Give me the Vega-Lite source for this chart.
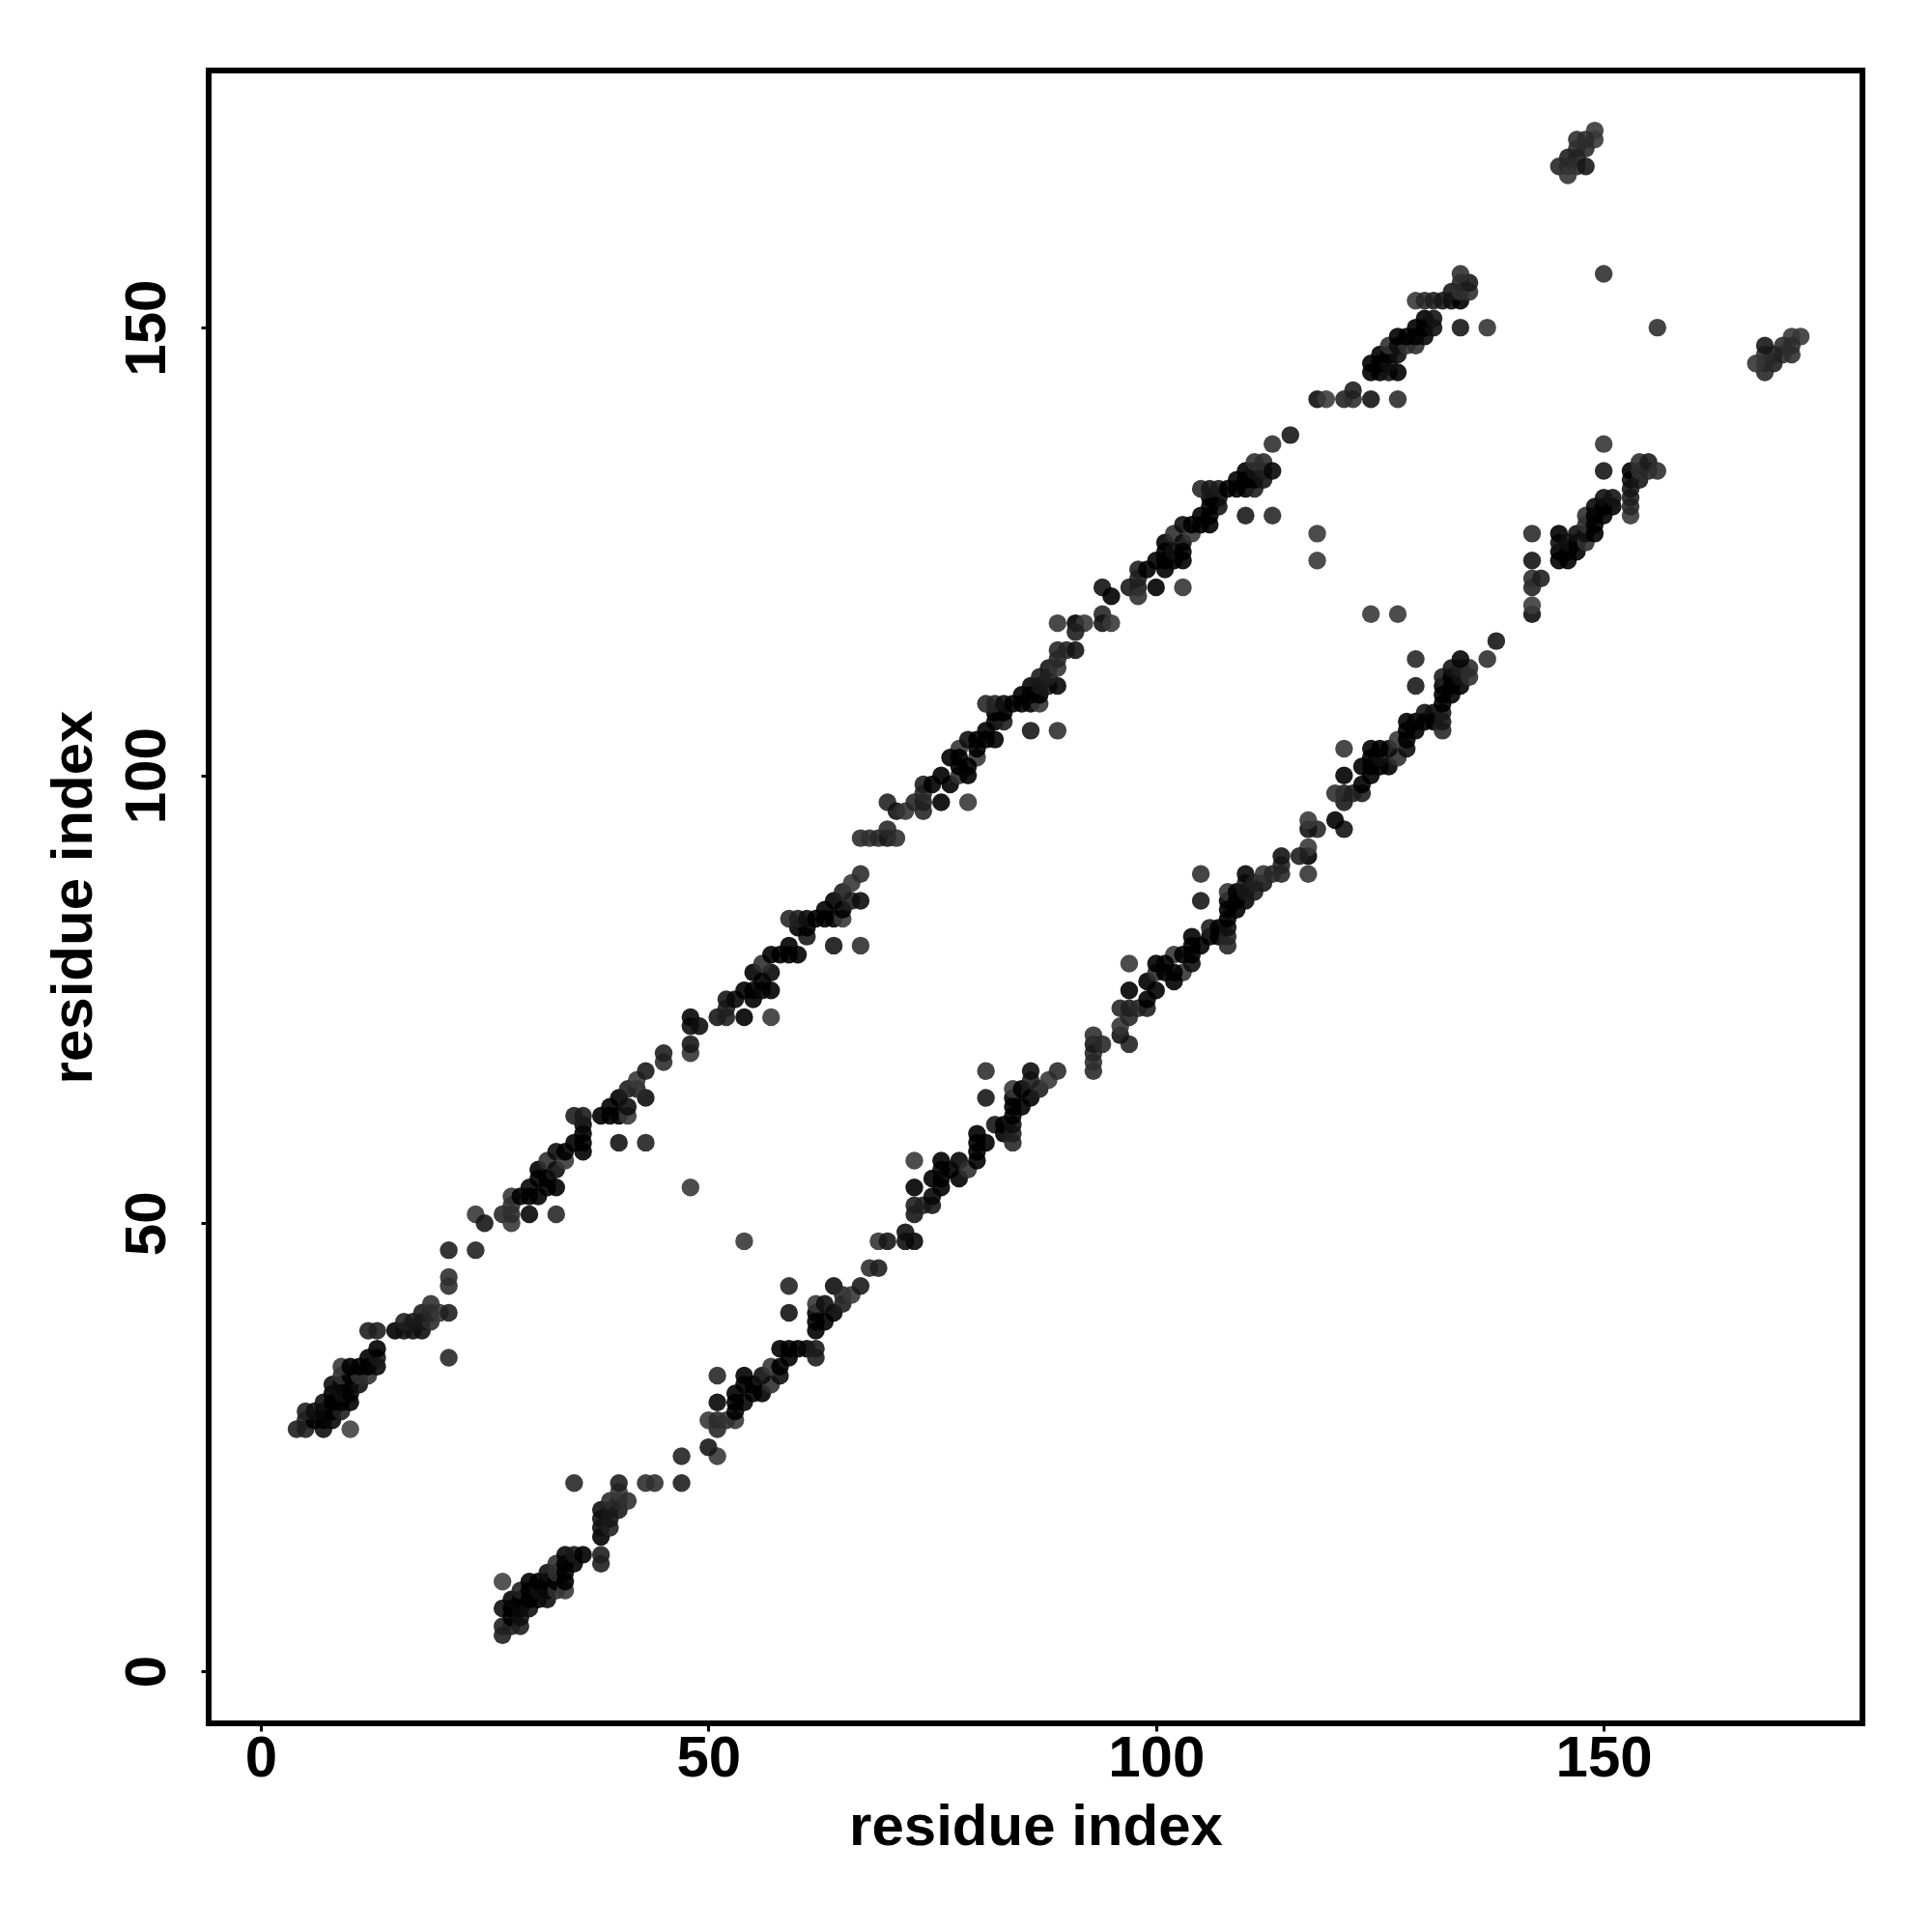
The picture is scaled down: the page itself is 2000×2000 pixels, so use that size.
{"$schema":"https://vega.github.io/schema/vega-lite/v6.json","width":1712,"height":1711,"autosize":"none","padding":{"left":216,"top":73,"right":72,"bottom":216},"background":"white",
"config":{"view":{"stroke":"#000","strokeWidth":6},"axis":{"domain":false,"grid":false,"tickColor":"#000","tickWidth":3,"tickSize":8,"labelFont":"Liberation Sans","labelFontWeight":"bold","labelFontSize":60,"labelColor":"#000","titleFont":"Liberation Sans","titleFontWeight":"bold","titleFontSize":60,"titleColor":"#000"}},
"data":{"values":[
{"i":4,"j":27,"s":0.7},{"i":5,"j":27,"s":0.7},{"i":7,"j":27,"s":0.9},{"i":10,"j":27,"s":0.3},{"i":5,"j":28,"s":0.7},{"i":6,"j":28,"s":1},{"i":7,"j":28,"s":1},{"i":8,"j":28,"s":0.95},{"i":5,"j":29,"s":0.7},{"i":6,"j":29,"s":0.9},{"i":7,"j":29,"s":0.95},{"i":8,"j":29,"s":1},{"i":9,"j":29,"s":0.7},{"i":7,"j":30,"s":0.9},{"i":8,"j":30,"s":1},{"i":9,"j":30,"s":1},{"i":10,"j":30,"s":1},{"i":8,"j":31,"s":1},{"i":9,"j":31,"s":0.9},{"i":10,"j":31,"s":1},{"i":8,"j":32,"s":0.9},{"i":9,"j":32,"s":0.95},{"i":10,"j":32,"s":1},{"i":11,"j":32,"s":0.9},{"i":9,"j":33,"s":0.5},{"i":10,"j":33,"s":1},{"i":11,"j":33,"s":0.5},{"i":12,"j":33,"s":0.5},{"i":9,"j":34,"s":0.4},{"i":10,"j":34,"s":1},{"i":11,"j":34,"s":1},{"i":12,"j":34,"s":1},{"i":13,"j":34,"s":0.95},{"i":12,"j":35,"s":1},{"i":13,"j":35,"s":0.8},{"i":13,"j":36,"s":1},{"i":12,"j":38,"s":0.7},{"i":13,"j":38,"s":0.7},
{"i":15,"j":38,"s":1},{"i":16,"j":38,"s":0.9},{"i":17,"j":38,"s":0.85},{"i":18,"j":38,"s":0.9},{"i":16,"j":39,"s":0.7},{"i":17,"j":39,"s":0.8},{"i":18,"j":39,"s":0.8},{"i":19,"j":39,"s":0.55},{"i":18,"j":40,"s":0.75},{"i":19,"j":40,"s":0.6},{"i":20,"j":40,"s":0.4},{"i":21,"j":40,"s":0.7},{"i":19,"j":41,"s":0.5},{"i":21,"j":35,"s":0.6},{"i":21,"j":43,"s":0.5},{"i":21,"j":44,"s":0.5},{"i":21,"j":47,"s":0.7},{"i":24,"j":47,"s":0.65},{"i":24,"j":51,"s":0.4},{"i":25,"j":50,"s":0.8},
{"i":27,"j":51,"s":0.6},{"i":28,"j":50,"s":0.4},{"i":28,"j":51,"s":0.55},{"i":30,"j":51,"s":0.95},{"i":33,"j":51,"s":0.6},{"i":28,"j":53,"s":0.4},{"i":28,"j":52,"s":0.5},{"i":29,"j":53,"s":1},{"i":30,"j":54,"s":0.95},{"i":30,"j":53,"s":1},{"i":31,"j":53,"s":1},{"i":31,"j":55,"s":1},{"i":31,"j":56,"s":1},{"i":32,"j":54,"s":1},{"i":32,"j":55,"s":1},{"i":33,"j":54,"s":1},{"i":32,"j":57,"s":0.5},{"i":33,"j":56,"s":0.9},{"i":33,"j":58,"s":0.9},{"i":34,"j":57,"s":0.4},{"i":34,"j":58,"s":1},{"i":35,"j":59,"s":1},{"i":36,"j":58,"s":1},{"i":36,"j":59,"s":1},{"i":36,"j":60,"s":1},{"i":36,"j":61,"s":0.95},{"i":35,"j":62,"s":0.7},{"i":36,"j":62,"s":0.75},
{"i":38,"j":62,"s":1},{"i":39,"j":62,"s":1},{"i":40,"j":62,"s":1},{"i":41,"j":62,"s":0.4},{"i":39,"j":63,"s":1},{"i":40,"j":64,"s":1},{"i":41,"j":63,"s":0.9},{"i":43,"j":64,"s":0.9},{"i":41,"j":65,"s":0.7},{"i":42,"j":65,"s":0.6},{"i":42,"j":66,"s":0.4},{"i":43,"j":67,"s":0.75},{"i":45,"j":68,"s":0.5},{"i":40,"j":59,"s":0.85},{"i":43,"j":59,"s":0.65},{"i":48,"j":54,"s":0.4},
{"i":45,"j":69,"s":0.7},{"i":48,"j":69,"s":0.45},{"i":48,"j":70,"s":0.8},{"i":48,"j":72,"s":0.9},{"i":48,"j":73,"s":0.95},{"i":49,"j":72,"s":0.9},{"i":51,"j":73,"s":0.8},{"i":52,"j":73,"s":0.7},{"i":52,"j":74,"s":0.7},{"i":52,"j":75,"s":0.8},{"i":53,"j":75,"s":0.95},{"i":54,"j":73,"s":1},{"i":57,"j":73,"s":0.4},{"i":54,"j":76,"s":1},{"i":55,"j":75,"s":1},{"i":55,"j":76,"s":1},{"i":56,"j":76,"s":0.95},{"i":55,"j":78,"s":1},{"i":56,"j":77,"s":1},{"i":57,"j":76,"s":1},{"i":57,"j":78,"s":0.95},{"i":56,"j":79,"s":0.5},{"i":57,"j":80,"s":1},{"i":58,"j":80,"s":1},{"i":59,"j":80,"s":1},{"i":60,"j":80,"s":1},{"i":59,"j":81,"s":1},{"i":61,"j":82,"s":0.8},{"i":60,"j":83,"s":1},{"i":61,"j":83,"s":1},
{"i":59,"j":84,"s":0.6},{"i":60,"j":84,"s":0.7},{"i":61,"j":84,"s":0.9},{"i":62,"j":84,"s":1},{"i":63,"j":84,"s":1},{"i":64,"j":84,"s":1},{"i":65,"j":84,"s":0.4},{"i":63,"j":85,"s":1},{"i":64,"j":86,"s":1},{"i":65,"j":85,"s":1},{"i":65,"j":87,"s":0.7},{"i":66,"j":88,"s":0.4},{"i":66,"j":86,"s":0.7},{"i":67,"j":86,"s":0.9},{"i":67,"j":89,"s":0.55},{"i":64,"j":81,"s":0.8},{"i":67,"j":81,"s":0.5},
{"i":67,"j":93,"s":0.55},{"i":68,"j":93,"s":0.5},{"i":69,"j":93,"s":0.6},{"i":70,"j":93,"s":0.8},{"i":71,"j":93,"s":0.5},{"i":70,"j":94,"s":0.6},{"i":70,"j":97,"s":0.65},{"i":71,"j":96,"s":0.85},{"i":72,"j":96,"s":0.45},{"i":73,"j":97,"s":0.6},{"i":74,"j":96,"s":0.6},{"i":74,"j":97,"s":0.7},{"i":74,"j":98,"s":0.6},{"i":74,"j":99,"s":0.7},{"i":75,"j":99,"s":1},{"i":76,"j":97,"s":1},{"i":79,"j":97,"s":0.4},{"i":76,"j":100,"s":1},{"i":77,"j":99,"s":1},{"i":78,"j":100,"s":0.5},{"i":79,"j":100,"s":1},
{"i":89,"j":105,"s":0.5},{"i":86,"j":105,"s":0.8},{"i":80,"j":102,"s":0.4},{"i":78,"j":103,"s":0.45},{"i":77,"j":102,"s":1},{"i":78,"j":101,"s":1},{"i":78,"j":102,"s":1},{"i":79,"j":101,"s":1},{"i":79,"j":104,"s":0.9},{"i":80,"j":104,"s":1},{"i":81,"j":105,"s":1},{"i":80,"j":103,"s":1},{"i":81,"j":104,"s":1},{"i":82,"j":104,"s":1},{"i":82,"j":106,"s":1},{"i":83,"j":106,"s":0.7},{"i":83,"j":107,"s":1},{"i":82,"j":107,"s":1},{"i":81,"j":108,"s":0.6},{"i":82,"j":108,"s":0.65},{"i":83,"j":108,"s":0.9},{"i":84,"j":108,"s":1},{"i":85,"j":108,"s":1},{"i":86,"j":108,"s":1},{"i":87,"j":108,"s":0.45},{"i":85,"j":109,"s":1},{"i":86,"j":110,"s":0.95},{"i":87,"j":109,"s":1},{"i":86,"j":109,"s":1},{"i":87,"j":111,"s":0.75},{"i":87,"j":110,"s":0.8},{"i":88,"j":112,"s":0.8},{"i":88,"j":110,"s":0.8},{"i":89,"j":110,"s":0.95},{"i":88,"j":111,"s":0.7},{"i":89,"j":112,"s":0.45},{"i":89,"j":114,"s":0.6},{"i":90,"j":114,"s":0.65},{"i":91,"j":114,"s":0.85},{"i":89,"j":113,"s":0.6},
{"i":89,"j":117,"s":0.45},{"i":91,"j":117,"s":1},{"i":92,"j":117,"s":0.4},{"i":91,"j":116,"s":0.7},{"i":94,"j":118,"s":0.6},{"i":94,"j":117,"s":0.85},{"i":95,"j":117,"s":0.4},{"i":94,"j":121,"s":0.85},{"i":95,"j":120,"s":1},{"i":97,"j":121,"s":0.75},{"i":98,"j":121,"s":0.7},{"i":98,"j":120,"s":0.5},{"i":98,"j":123,"s":0.7},{"i":98,"j":122,"s":0.7},{"i":99,"j":123,"s":1},{"i":100,"j":121,"s":1},{"i":103,"j":121,"s":0.45},
{"i":100,"j":124,"s":1},{"i":101,"j":123,"s":1},{"i":101,"j":124,"s":1},{"i":101,"j":126,"s":1},{"i":101,"j":125,"s":1},{"i":102,"j":124,"s":1},{"i":102,"j":125,"s":0.9},{"i":103,"j":124,"s":1},{"i":102,"j":127,"s":0.5},{"i":103,"j":126,"s":0.9},{"i":103,"j":125,"s":1},{"i":103,"j":128,"s":0.9},{"i":104,"j":127,"s":0.4},{"i":104,"j":128,"s":1},{"i":105,"j":128,"s":1},{"i":105,"j":129,"s":1},{"i":106,"j":128,"s":1},{"i":106,"j":129,"s":1},{"i":107,"j":130,"s":0.85},{"i":106,"j":130,"s":1},{"i":107,"j":131,"s":0.9},{"i":106,"j":131,"s":1},
{"i":105,"j":132,"s":0.6},{"i":106,"j":132,"s":0.8},{"i":107,"j":132,"s":0.75},{"i":108,"j":132,"s":1},{"i":109,"j":132,"s":1},{"i":110,"j":132,"s":1},{"i":111,"j":132,"s":0.7},{"i":109,"j":133,"s":1},{"i":110,"j":133,"s":1},{"i":111,"j":133,"s":1},{"i":112,"j":133,"s":0.85},{"i":110,"j":134,"s":1},{"i":111,"j":134,"s":0.85},{"i":112,"j":134,"s":0.7},{"i":111,"j":135,"s":0.5},{"i":112,"j":135,"s":0.55},{"i":113,"j":134,"s":0.95},{"i":110,"j":129,"s":0.75},{"i":113,"j":129,"s":0.6},{"i":113,"j":137,"s":0.5},{"i":115,"j":138,"s":0.8},{"i":118,"j":127,"s":0.4},{"i":118,"j":124,"s":0.4},
{"i":118,"j":142,"s":0.9},{"i":119,"j":142,"s":0.35},{"i":121,"j":142,"s":0.65},{"i":122,"j":142,"s":0.5},{"i":124,"j":142,"s":0.85},{"i":127,"j":142,"s":0.55},{"i":122,"j":143,"s":0.7},{"i":124,"j":145,"s":1},{"i":125,"j":145,"s":1},{"i":126,"j":145,"s":0.85},{"i":127,"j":145,"s":1},{"i":125,"j":146,"s":1},{"i":126,"j":146,"s":0.9},{"i":124,"j":146,"s":1},{"i":125,"j":147,"s":1},{"i":126,"j":147,"s":1},{"i":127,"j":147,"s":0.9},{"i":126,"j":148,"s":0.5},{"i":127,"j":148,"s":0.9},{"i":128,"j":148,"s":0.5},{"i":129,"j":148,"s":0.5},{"i":127,"j":149,"s":1},{"i":128,"j":149,"s":1},{"i":129,"j":149,"s":1},{"i":130,"j":149,"s":0.95},{"i":129,"j":150,"s":1},{"i":130,"j":150,"s":1},{"i":131,"j":150,"s":0.9},{"i":130,"j":151,"s":1},{"i":131,"j":151,"s":0.85},{"i":134,"j":150,"s":0.8},{"i":137,"j":150,"s":0.45},
{"i":129,"j":153,"s":0.4},{"i":130,"j":153,"s":0.6},{"i":131,"j":153,"s":0.7},{"i":132,"j":153,"s":0.8},{"i":133,"j":153,"s":0.9},{"i":134,"j":153,"s":1},{"i":133,"j":154,"s":0.8},{"i":134,"j":154,"s":0.5},{"i":135,"j":154,"s":0.5},{"i":134,"j":155,"s":0.6},{"i":135,"j":155,"s":0.75},{"i":134,"j":156,"s":0.5},{"i":150,"j":156,"s":0.5},
{"i":149,"j":172,"s":0.4},{"i":149,"j":171,"s":0.4},{"i":147,"j":171,"s":0.5},{"i":148,"j":171,"s":0.55},{"i":147,"j":170,"s":0.5},{"i":148,"j":170,"s":0.55},{"i":146,"j":169,"s":0.7},{"i":147,"j":169,"s":0.65},{"i":145,"j":168,"s":0.6},{"i":146,"j":168,"s":0.6},{"i":147,"j":168,"s":0.55},{"i":148,"j":168,"s":0.8},{"i":146,"j":167,"s":0.45}
]},
"layer":[
{"mark":{"type":"circle","size":340,"opacity":0.9},"encoding":{
"x":{"field":"i","type":"quantitative","scale":{"domain":[-5.82,178.9],"nice":false,"zero":false},"axis":{"values":[0,50,100,150],"title":"residue index","labelPadding":-1,"titlePadding":12}},
"y":{"field":"j","type":"quantitative","scale":{"domain":[-5.83,178.7],"nice":false,"zero":false},"axis":{"values":[0,50,100,150],"title":"residue index","labelAngle":-90,"labelAlign":"center","labelBaseline":"alphabetic","labelPadding":38,"titlePadding":15}},
"color":{"field":"s","type":"quantitative","scale":{"domain":[0,1],"range":["#5e5e5e","#000000"]},"legend":null}}},
{"mark":{"type":"circle","size":340,"opacity":0.9},"encoding":{
"x":{"field":"j","type":"quantitative"},
"y":{"field":"i","type":"quantitative"},
"color":{"field":"s","type":"quantitative","legend":null}}}
]}
